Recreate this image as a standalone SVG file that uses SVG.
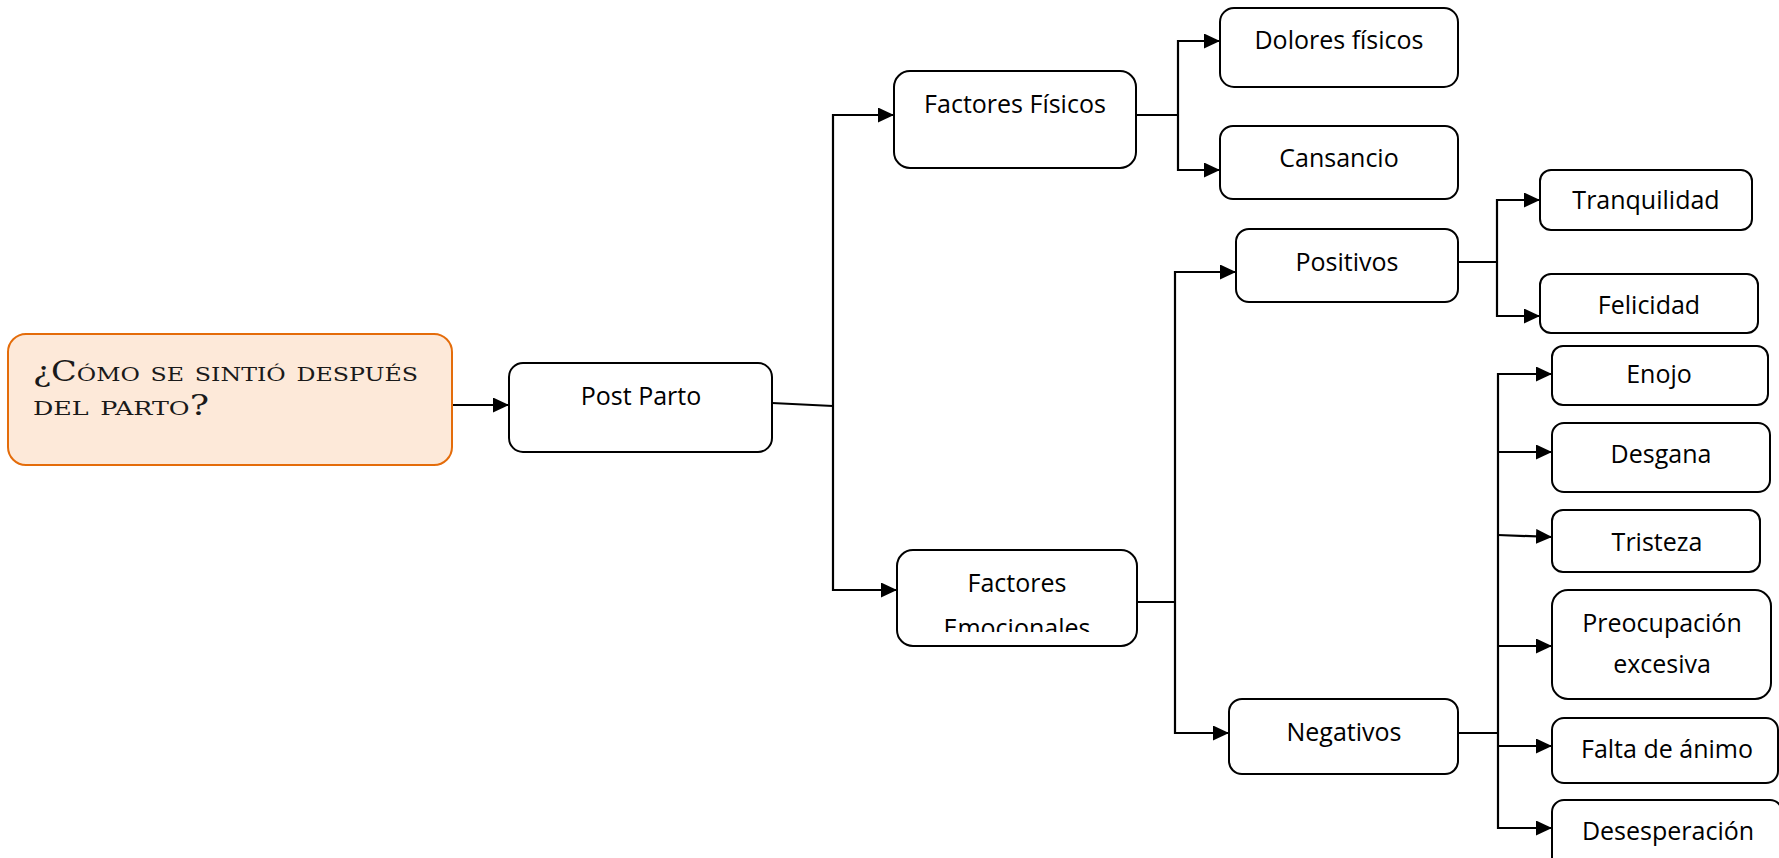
<svg xmlns="http://www.w3.org/2000/svg" width="1779" height="858" viewBox="0 0 1779 858">
  <style>
    .box { fill: #ffffff; stroke: #000000; stroke-width: 2; }
    .lbl { font-family: "Open Sans", "Liberation Sans", sans-serif; font-size: 25px; fill: #000000; text-anchor: middle; }
    .wire { fill: none; stroke: #000000; stroke-width: 2.2; }
    .arrow { fill: none; stroke: #000000; stroke-width: 2.2; marker-end: url(#head); }
    .title { font-family: "DejaVu Serif", "Liberation Serif", serif; font-variant: small-caps; font-size: 27px; fill: #1a1a1a; }
  </style>
  <defs>
    <marker id="head" markerUnits="userSpaceOnUse" markerWidth="17" markerHeight="15" refX="16" refY="7.5" orient="auto">
      <path d="M0,0 L16,7.5 L0,15 z" fill="#000000"/>
    </marker>
    <clipPath id="clipEmo">
      <rect x="897" y="550" width="240" height="82"/>
    </clipPath>
  </defs>

  <rect width="1779" height="858" fill="#ffffff"/>

  <!-- connectors -->
  <g id="connectors">
    <line class="arrow" x1="452" y1="405" x2="509" y2="405"/>
    <line class="wire" x1="772" y1="403" x2="833" y2="406"/>
    <polyline class="arrow" points="833,406 833,115 894,115"/>
    <polyline class="arrow" points="833,406 833,590 897,590"/>

    <line class="wire" x1="1136" y1="115" x2="1178" y2="115"/>
    <polyline class="arrow" points="1178,115 1178,41 1220,41"/>
    <polyline class="arrow" points="1178,115 1178,170 1220,170"/>

    <line class="wire" x1="1137" y1="602" x2="1175" y2="602"/>
    <polyline class="arrow" points="1175,602 1175,272 1236,272"/>
    <polyline class="arrow" points="1175,602 1175,733 1229,733"/>

    <line class="wire" x1="1458" y1="262" x2="1497" y2="262"/>
    <polyline class="arrow" points="1497,262 1497,200 1540,200"/>
    <polyline class="arrow" points="1497,262 1497,316 1540,316"/>

    <line class="wire" x1="1458" y1="733" x2="1498" y2="733"/>
    <polyline class="arrow" points="1498,733 1498,374 1552,374"/>
    <line class="arrow" x1="1498" y1="452" x2="1552" y2="452"/>
    <line class="arrow" x1="1498" y1="535" x2="1552" y2="537"/>
    <line class="arrow" x1="1498" y1="646" x2="1552" y2="646"/>
    <line class="arrow" x1="1498" y1="746" x2="1552" y2="746"/>
    <polyline class="arrow" points="1498,733 1498,828 1552,828"/>
  </g>

  <!-- question -->
  <g id="question">
    <rect x="8" y="334" width="444" height="131" rx="18" fill="#fde9d9" stroke="#e46c0a" stroke-width="2"/>
    <text class="title" x="33" y="381" textLength="385" lengthAdjust="spacingAndGlyphs">¿Cómo se sintió después</text>
    <text class="title" x="33" y="415" textLength="176" lengthAdjust="spacingAndGlyphs">del parto?</text>
  </g>

  <g id="post-parto">
    <rect class="box" x="509" y="363" width="263" height="89" rx="14"/>
    <text class="lbl" x="641" y="405">Post Parto</text>
  </g>

  <g id="factores-fisicos">
    <rect class="box" x="894" y="71" width="242" height="97" rx="16"/>
    <text class="lbl" x="1015" y="113">Factores Físicos</text>
  </g>

  <g id="dolores-fisicos">
    <rect class="box" x="1220" y="8" width="238" height="79" rx="14"/>
    <text class="lbl" x="1339" y="49">Dolores físicos</text>
  </g>

  <g id="cansancio">
    <rect class="box" x="1220" y="126" width="238" height="73" rx="13"/>
    <text class="lbl" x="1339" y="167">Cansancio</text>
  </g>

  <g id="factores-emocionales">
    <rect class="box" x="897" y="550" width="240" height="96" rx="16"/>
    <g clip-path="url(#clipEmo)">
      <text class="lbl" x="1017" y="592">Factores</text>
      <text class="lbl" x="1017" y="637">Emocionales</text>
    </g>
  </g>

  <g id="positivos">
    <rect class="box" x="1236" y="229" width="222" height="73" rx="13"/>
    <text class="lbl" x="1347" y="271">Positivos</text>
  </g>

  <g id="negativos">
    <rect class="box" x="1229" y="699" width="229" height="75" rx="13"/>
    <text class="lbl" x="1344" y="741">Negativos</text>
  </g>

  <g id="tranquilidad">
    <rect class="box" x="1540" y="170" width="212" height="60" rx="11"/>
    <text class="lbl" x="1646" y="209">Tranquilidad</text>
  </g>

  <g id="felicidad">
    <rect class="box" x="1540" y="274" width="218" height="59" rx="11"/>
    <text class="lbl" x="1649" y="314">Felicidad</text>
  </g>

  <g id="enojo">
    <rect class="box" x="1552" y="346" width="216" height="59" rx="11"/>
    <text class="lbl" x="1659" y="383">Enojo</text>
  </g>

  <g id="desgana">
    <rect class="box" x="1552" y="423" width="218" height="69" rx="12"/>
    <text class="lbl" x="1661" y="463">Desgana</text>
  </g>

  <g id="tristeza">
    <rect class="box" x="1552" y="510" width="208" height="62" rx="11"/>
    <text class="lbl" x="1657" y="551">Tristeza</text>
  </g>

  <g id="preocupacion">
    <rect class="box" x="1552" y="590" width="219" height="109" rx="16"/>
    <text class="lbl" x="1662" y="632">Preocupación</text>
    <text class="lbl" x="1662" y="673">excesiva</text>
  </g>

  <g id="falta-de-animo">
    <rect class="box" x="1552" y="718" width="226" height="65" rx="12"/>
    <text class="lbl" x="1667" y="758">Falta de ánimo</text>
  </g>

  <g id="desesperacion">
    <rect class="box" x="1552" y="800" width="230" height="80" rx="12"/>
    <text class="lbl" x="1668" y="840">Desesperación</text>
  </g>
</svg>
